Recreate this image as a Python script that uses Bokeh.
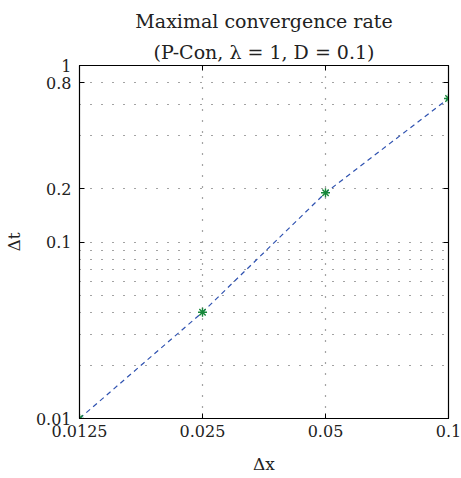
from bokeh.plotting import figure
from bokeh.models import Range1d, FixedTicker, LogAxis, Title
from bokeh.embed import file_html
from bokeh.resources import INLINE

# ---- data ----
dx = [0.0125, 0.025, 0.05, 0.1]
dt = [0.01, 0.04, 0.19, 0.65]

x_ticks = [0.0125, 0.025, 0.05, 0.1]
x_tick_labels = ["0.0125", "0.025", "0.05", "0.1"]
y_ticks = [0.01, 0.1, 0.2, 0.8, 1]
y_tick_labels = ["0.01", "0.1", "0.2", "0.8", "1"]
x_grid_vals = [0.025, 0.05]
y_grid_vals = [0.02, 0.03, 0.04, 0.05, 0.06, 0.07, 0.08, 0.09, 0.1, 0.2, 0.4, 0.6, 0.8]

title_line1 = "Maximal convergence rate"
title_line2 = "(P-Con, \u03bb = 1, D = 0.1)"
x_label = "\u0394x"
y_label = "\u0394t"

FONT = "DejaVu Serif"
TXT = "#222222"

p = figure(x_axis_type="log", y_axis_type="log",
           x_range=Range1d(0.0125, 0.1), y_range=Range1d(0.01, 1),
           frame_width=369, frame_height=353,
           output_backend="svg", toolbar_location=None,
           title=title_line1)
p.min_border = 0
p.min_border_left = 78
p.min_border_right = 14
p.min_border_top = 65
p.min_border_bottom = 58
p.background_fill_color = "white"
p.border_fill_color = "white"
p.outline_line_color = "black"
p.outline_line_width = 1.2

p.title.text_font = FONT
p.title.text_font_size = "19px"
p.title.text_font_style = "normal"
p.title.text_color = TXT
p.title.align = "center"
p.title.standoff = 9


def style_axis(ax, ticks, labels, show_labels=True):
    ax.ticker = FixedTicker(ticks=ticks)
    if show_labels:
        ax.major_label_overrides = {t: l for t, l in zip(ticks, labels)}
        ax.major_label_text_font_size = "16px"
    else:
        ax.major_label_overrides = {t: "" for t in ticks}
        ax.major_label_text_font_size = "1px"
        ax.major_label_standoff = 0
    ax.major_tick_in = 5
    ax.major_tick_out = 0
    ax.minor_tick_line_color = None
    ax.axis_line_color = "black"
    ax.major_tick_line_color = "black"
    ax.major_label_text_font = FONT
    ax.major_label_text_color = TXT


xa = p.xaxis[0]
ya = p.yaxis[0]
style_axis(xa, x_ticks, x_tick_labels)
style_axis(ya, y_ticks, y_tick_labels)
xa.major_label_standoff = 6
ya.major_label_standoff = 8
xa.axis_label = x_label
ya.axis_label = y_label
for ax in (xa, ya):
    ax.axis_label_text_font = FONT
    ax.axis_label_text_font_size = "17px"
    ax.axis_label_text_font_style = "normal"
    ax.axis_label_text_color = TXT
xa.axis_label_standoff = 14
ya.axis_label_standoff = 9

# box ticks on top / right (no labels); top axis sits next to the frame
top = LogAxis()
style_axis(top, x_ticks, x_tick_labels, show_labels=False)
p.add_layout(top, "above")
right = LogAxis()
style_axis(right, y_ticks, y_tick_labels, show_labels=False)
p.add_layout(right, "right")

# second title line, between top axis and main title
p.add_layout(Title(text=title_line2, text_font=FONT, text_font_size="19px",
                   text_font_style="normal", text_color=TXT, align="center",
                   standoff=5), "above")

p.xgrid.ticker = FixedTicker(ticks=x_grid_vals)
p.ygrid.ticker = FixedTicker(ticks=y_grid_vals)
for g in (p.xgrid, p.ygrid):
    g.grid_line_color = "#333333"
    g.grid_line_dash = "1 10"
    g.grid_line_width = 1.2
    g.grid_line_alpha = 0.9

p.line(dx, dt, line_color="#2f52b0", line_dash="5 4", line_width=1.2)
p.scatter(dx, dt, marker="asterisk", size=9, line_color="#17883a", line_width=1.4)

open("out.html", "w").write(file_html(p, INLINE))
